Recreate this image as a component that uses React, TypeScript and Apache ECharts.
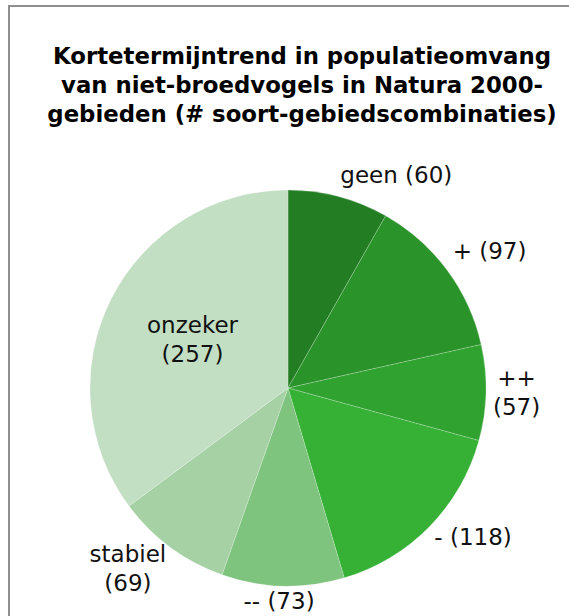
import React, { useEffect, useRef } from "react";
import * as echarts from "echarts";

const categories = ["geen", "+", "++", "-", "--", "stabiel", "onzeker"];
const values = [60, 97, 57, 118, 73, 69, 257];
const labelTexts = ["geen (60)", "+ (97)", "++\n(57)", "- (118)", "-- (73)", "stabiel\n(69)", "onzeker\n(257)"];
const colors = ["#237e23", "#2a932a", "#30a230", "#36b136", "#7ec47e", "#a5d1a5", "#c3dfc3"];
const insideIdx = [6];

const titleText = "Kortetermijntrend in populatieomvang\nvan niet-broedvogels in Natura 2000-\ngebieden (# soort-gebiedscombinaties)";

const CX = 288;
const CY = 388;
const R = 198;
const H = 616;

export default function App() {
  const ref = useRef<HTMLDivElement>(null);
  useEffect(() => {
    document.body.style.margin = "0";
    const chart = echarts.init(ref.current!, undefined, { renderer: "svg" });
    const total = values.reduce((a, b) => a + b, 0);
    const mids: number[] = [];
    let acc = 0;
    values.forEach((v) => {
      mids.push(((acc + v / 2) / total) * 2 * Math.PI);
      acc += v;
    });
    const clamp = (v: number) => Math.max(-1, Math.min(1, v));
    chart.setOption({
      animation: false,
      backgroundColor: "#ffffff",
      title: {
        text: titleText,
        left: 297,
        top: 36,
        textAlign: "center",
        textStyle: {
          fontFamily: "DejaVu Sans",
          fontSize: 22.8,
          fontWeight: "bold",
          color: "#000",
          lineHeight: 29,
        },
      },
      graphic: [
        {
          type: "rect",
          shape: { x: 9, y: 6, width: 640, height: 700 },
          style: { fill: "none", stroke: "#8f8f8f", lineWidth: 2 },
          silent: true,
        },
      ],
      series: [
        {
          type: "pie",
          center: [CX, CY],
          radius: R,
          startAngle: 90,
          clockwise: true,
          avoidLabelOverlap: false,
          itemStyle: { borderColor: "rgba(255,255,255,0.35)", borderWidth: 0.6 },
          label: {
            show: true,
            position: "outside",
            fontFamily: "DejaVu Sans",
            fontSize: 23,
            lineHeight: 29,
            color: "#111",
            align: "center",
            formatter: (p: any) => labelTexts[p.dataIndex],
          },
          labelLine: { show: false },
          emphasis: { disabled: true },
          labelLayout: (p: any) => {
            const i = p.dataIndex;
            const a = mids[i];
            const sx = Math.sin(a);
            const sy = -Math.cos(a);
            const w = p.labelRect.width;
            const h = p.labelRect.height;
            if (insideIdx.includes(i)) {
              return {
                x: CX + sx * R * 0.54,
                y: CY + sy * R * 0.54,
                align: "center",
                verticalAlign: "middle",
              };
            }
            const g = 7;
            const px = CX + sx * (R + g);
            const py = CY + sy * (R + g);
            const fx = clamp(sx * 4);
            const fy = sy < 0 ? clamp(sy * 2) : Math.pow(sy, 3);
            let y = py + (h / 2) * fy;
            y = Math.min(y, H - h / 2 - 1);
            return {
              x: px + (w / 2) * fx,
              y,
              align: "center",
              verticalAlign: "middle",
            };
          },
          data: categories.map((c, i) => ({
            name: c,
            value: values[i],
            itemStyle: { color: colors[i] },
          })),
        },
      ],
    });
    return () => chart.dispose();
  }, []);
  return <div ref={ref} style={{ width: 569, height: 616 }} />;
}
